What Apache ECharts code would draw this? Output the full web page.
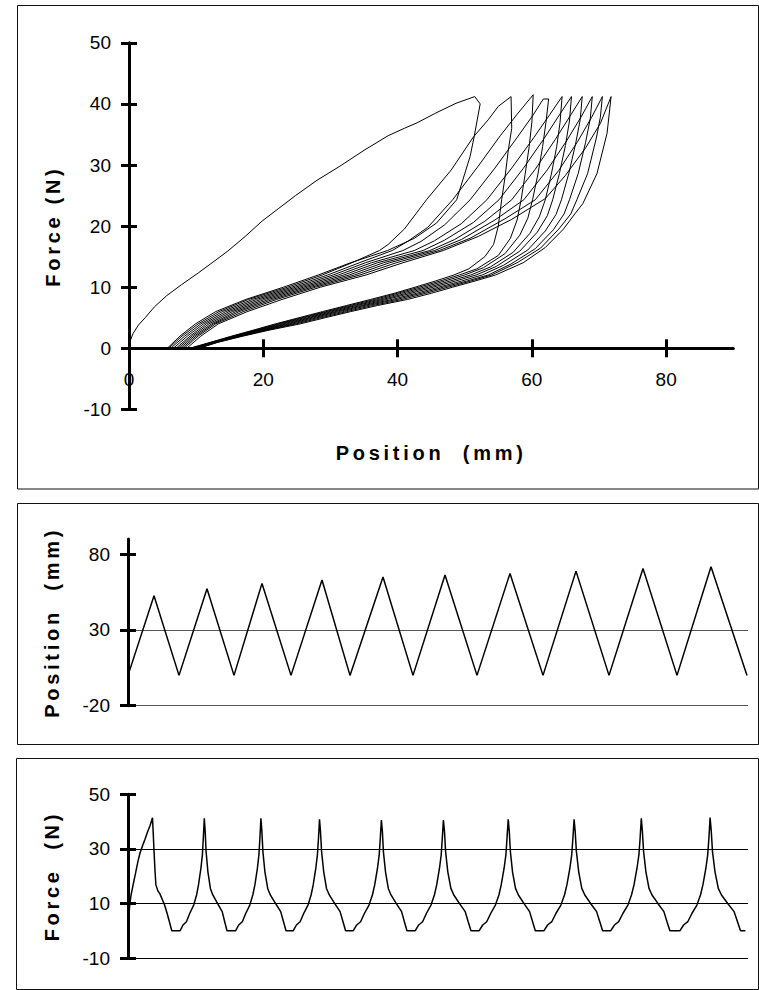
<!DOCTYPE html>
<html>
<head>
<meta charset="utf-8">
<script src="https://cdn.jsdelivr.net/npm/echarts@6/dist/echarts.min.js"></script>
<style>
html,body{margin:0;padding:0;background:#fff;}
#chart{width:759px;height:990px;}
#chart text[style*="bold"]{letter-spacing:3.7px;}
</style>
</head>
<body>
<div id="chart"></div>
<script>
// ---------- Top panel: Force (N) vs Position (mm), 10 hysteresis loops ----------
const xTickValues = [0, 20, 40, 60, 80];
const yTickValuesTop = [-10, 0, 10, 20, 30, 40, 50];

const loop1 = [[0,0],[0.1,1.0],[0.6,2.4],[1.4,3.8],[2.4,5.0],[3.8,6.8],[5.6,8.6],[7.8,10.4],[10.4,12.4],[12.5,14.1],[14.7,15.9],[17.3,18.3],[19.8,20.8],[22.3,22.9],[24.8,25.0],[28,27.5],[31.4,29.8],[35,32.4],[38.6,34.8],[41,36.0],[42.9,36.9],[45.5,38.4],[48.7,40.1],[51.5,41.2],
  [52.3,40],[51.4,34.6],[50.8,31.4],[48.8,24.3],[45.8,20.5],[42.5,18],[38.5,16],[33.0,14],[28.2,12],[23.0,10],[17.4,8],[12.9,6],[9.9,4],[7.6,2],[5.7,0]];
const loop2 = [[9.0,0],[12.2,1],[15.3,2],[18.6,3],[21.8,4],[25.3,5],[28.8,6],[32.4,7],[36.0,8],[39.5,9],[42.6,10],[45.6,11],[48.4,12],[50.6,13],[53.0,15],[54.3,17],[55.0,20],[55.5,24.3],[56.0,28],[56.5,32.5],[57.0,36],[56.9,41.2],
  [55,39.6],[53.5,37.4],[51.3,34.6],[48,29.2],[44.3,24.3],[41,19.5],[38.6,17],[37.3,16],[33.2,14],[28.8,12],[23.6,10],[17.8,8],[13.4,6],[10.3,4],[7.9,2],[5.9,0]];
const loop3 = [[9.2,0],[12.3,1],[15.5,2],[18.9,3],[22.2,4],[25.7,5],[29.3,6],[32.9,7],[36.6,8],[40.0,9],[43.2,10],[46.3,11],[49.2,12],[51.8,13],[55.0,15.2],[56.8,18],[57.8,21],[58.4,24.3],[59.0,28.5],[59.6,33],[60.0,37],[60.2,41.5],
  [57.8,38.3],[55.3,34.8],[52,29.8],[48.2,24.3],[44.5,19.8],[41.5,17.5],[39.2,16],[34.3,14],[29.6,12],[24.2,10],[18.4,8],[13.9,6],[10.7,4],[8.3,2],[6.2,0]];
const loop4 = [[9.4,0],[12.5,1],[15.7,2],[19.1,3],[22.6,4],[26.1,5],[29.7,6],[33.4,7],[37.2,8],[40.6,9],[43.9,10],[47.0,11],[50.0,12],[52.8,13.2],[56.0,15.5],[58.2,18.5],[59.4,21.3],[60.1,24.3],[60.9,28.5],[61.6,33],[62.1,37],[62.5,40.8],
  [61.7,40.8],[60.2,38.2],[57.8,34.5],[54.5,29.5],[50.8,24.3],[47,20.2],[43.5,17.5],[40.8,16],[35.2,14],[30.4,12],[24.8,10],[19.0,8],[14.4,6],[11.1,4],[8.7,2],[6.6,0]];
const loop5 = [[9.6,0],[12.6,1],[15.9,2],[19.4,3],[23.0,4],[26.6,5],[30.2,6],[33.9,7],[37.8,8],[41.3,9],[44.6,10],[47.8,11],[50.9,12],[53.8,13.3],[57.2,15.7],[59.7,18.8],[61.1,21.5],[62.0,24.3],[62.9,28.5],[63.7,33],[64.2,37],[64.5,41.2],
  [62.7,38.3],[60.3,34.5],[57,29.5],[53.3,24.3],[49.5,20.4],[45.5,17.6],[42.5,16],[36.1,14],[31.2,12],[25.4,10],[19.6,8],[14.9,6],[11.5,4],[9.1,2],[7.0,0]];
const loop6 = [[9.8,0],[12.8,1],[16.1,2],[19.7,3],[23.5,4],[27.0,5],[30.7,6],[34.5,7],[38.4,8],[42.0,9],[45.3,10],[48.6,11],[51.7,12],[54.7,13.4],[58.2,15.9],[60.8,19],[62.3,21.7],[63.1,24.3],[64.1,28.6],[65.0,33.2],[65.6,37.2],[65.9,41.2],
  [64.1,38.2],[61.8,34.3],[58.7,29.4],[55.1,24.3],[51.3,20.6],[47,17.7],[43.8,16],[37.0,14],[32.0,12],[26.0,10],[20.2,8],[15.4,6],[11.9,4],[9.4,2],[7.3,0]];
const loop7 = [[10.0,0],[12.9,1],[16.3,2],[20.0,3],[23.9,4],[27.5,5],[31.2,6],[35.0,7],[39.2,8],[42.8,9],[46.1,10],[49.5,11],[52.6,12],[55.8,13.6],[59.4,16.1],[62.0,19.2],[63.6,21.9],[64.4,24.3],[65.5,28.6],[66.5,33.4],[67.2,37.4],[67.5,41.2],
  [65.8,38.2],[63.5,34.2],[60.5,29.3],[57,24.3],[53,20.8],[48.5,17.8],[44.8,16],[37.9,14],[32.8,12],[26.6,10],[20.8,8],[15.9,6],[12.3,4],[9.7,2],[7.6,0]];
const loop8 = [[10.1,0],[13.0,1],[16.5,2],[20.3,3],[24.4,4],[28.0,5],[31.8,6],[35.6,7],[39.9,8],[43.5,9],[46.8,10],[50.3,11],[53.5,12],[56.9,13.8],[60.5,16.3],[63.2,19.4],[64.8,22],[65.6,24.3],[66.9,28.6],[68.0,33.7],[68.7,37.6],[69.0,41.2],
  [67.4,38],[65.2,34],[62.3,29.2],[58.8,24.3],[54.5,21],[49.5,17.8],[45.5,16],[38.8,14],[33.6,12],[27.2,10],[21.4,8],[16.4,6],[12.6,4],[10.0,2],[7.9,0]];
const loop9 = [[10.3,0],[13.2,1],[16.8,2],[20.6,3],[24.9,4],[28.6,5],[32.4,6],[36.3,7],[40.7,8],[44.2,9],[47.5,10],[50.9,11],[54.0,12],[57.8,14],[61.3,16.4],[64.0,19.5],[65.8,22],[66.7,24.3],[68.3,28.6],[69.6,34.4],[70.2,37.8],[70.5,41.2],
  [68.9,37.8],[66.8,33.8],[64,29.1],[60.5,24.3],[56,21.2],[50.8,18],[46.2,16],[39.8,14],[34.4,12],[27.8,10],[22.0,8],[17.0,6],[12.9,4],[10.3,2],[8.2,0]];
const loop10 = [[10.4,0],[13.3,1],[17.0,2],[21.0,3],[25.5,4],[29.2,5],[33.0,6],[37.0,7],[41.5,8],[45.0,9],[48.2,10],[51.5,11],[54.6,12],[58.7,14],[62.0,16.5],[64.7,19.5],[66.4,22],[67.6,23.7],[69.7,28.6],[71.2,35.2],[71.8,41.2],
  [70.2,36.8],[68,32.8],[65,28.3],[62,24.5],[57,21.1],[52,18.3],[46.8,16],[40.8,14],[35.3,12],[28.5,10],[22.8,8],[17.6,6],[13.3,4],[10.7,2],[8.6,0]];
const loops = [loop1, loop2, loop3, loop4, loop5, loop6, loop7, loop8, loop9, loop10];

// ---------- Middle panel: Position (mm) vs time ----------
const positionTicks = [-20, 30, 80];
const positionTimes = [0, 26, 51, 79, 106, 134, 163, 194, 222, 255, 285, 317, 349, 382, 415, 448, 481, 515, 549, 583, 619];
const positionValues = [0, 52.5, 0, 57.2, 0, 60.7, 0, 62.9, 0, 64.9, 0, 66.2, 0, 67.3, 0, 68.8, 0, 70.6, 0, 71.7, 0];

// ---------- Bottom panel: Force (N) vs time ----------
const cycle1Times  = [0, 0.6, 1.7, 3, 5.1, 7.5, 9.9, 12, 14.8, 17, 19.6, 22, 24.5, 25.2, 25.9, 27, 27.9, 30, 31.7, 36.6, 39, 41.4, 43.8];
const cycle1Forces = [0, 4, 9.4, 13, 16.8, 21, 25.3, 28.5, 31.4, 33.5, 36.3, 38.5, 41.4, 36, 30.2, 22, 16.8, 14.5, 13.7, 9.4, 6.5, 3.3, 0];
const riseForceLevels = [0, 2.1, 3.3, 6.4, 9.4, 13.1, 16.8, 22.9, 27.8, 33.9];
const fallForceLevels = [36.3, 29, 21.6, 15.5, 13.1, 10, 7, 3.3, 0];
const peakForces = [41.2, 41.2, 40.8, 40.6, 40.6, 40.8, 40.8, 41.2, 41.5];
const riseTimes = [
  [52.1, 55.0, 58.4, 61.8, 65.7, 68.6, 70.5, 72.9, 74.4, 75.3, 76.3],
  [107.7, 110.7, 114.3, 117.8, 121.8, 124.8, 126.9, 129.4, 130.9, 131.9, 132.9],
  [165.3, 168.4, 172.1, 175.8, 180.0, 183.1, 185.2, 187.8, 189.4, 190.5, 191.5],
  [225.3, 228.7, 232.6, 236.5, 241.0, 244.4, 246.7, 249.5, 251.2, 252.3, 253.4],
  [287.3, 290.7, 294.6, 298.5, 303.0, 306.4, 308.7, 311.5, 313.2, 314.3, 315.4],
  [351.2, 354.7, 358.7, 362.8, 367.4, 370.9, 373.2, 376.1, 377.9, 379.0, 380.2],
  [416.0, 419.6, 423.8, 428.0, 432.9, 436.5, 438.9, 441.9, 443.7, 444.9, 446.1],
  [482.8, 486.5, 490.7, 495.0, 499.9, 503.5, 506.0, 509.0, 510.9, 512.1, 513.3],
  [552.0, 555.6, 559.8, 564.0, 568.9, 572.5, 574.9, 577.9, 579.7, 580.9, 582.1]
];
const fallTimes = [
  [77.2, 78.1, 79.9, 82.4, 84.8, 89.5, 94.2, 96.7, 99.0],
  [133.9, 134.9, 136.9, 139.7, 142.3, 147.5, 152.7, 155.5, 158.0],
  [192.5, 193.6, 195.7, 198.5, 201.3, 206.6, 212.1, 215.0, 217.6],
  [254.4, 255.4, 257.5, 260.3, 263.0, 268.2, 273.6, 276.4, 279.0],
  [316.5, 317.6, 319.8, 322.9, 325.8, 331.4, 337.2, 340.2, 343.0],
  [381.3, 382.4, 384.5, 387.5, 390.4, 395.9, 401.6, 404.6, 407.3],
  [447.2, 448.4, 450.7, 453.8, 456.8, 462.6, 468.6, 471.8, 474.6],
  [514.4, 515.6, 517.9, 521.0, 524.0, 529.9, 535.9, 539.0, 541.9],
  [583.3, 584.5, 587.0, 590.3, 593.5, 599.7, 606.1, 609.5, 612.5]
];
const forceEnd = [617.4, 0];
const forceTicks = [-10, 10, 30, 50];

// ---------- build series data ----------
const positionData = positionTimes.map((t, i) => [t, positionValues[i]]);
const forceData = cycle1Times.map((t, i) => [t, cycle1Forces[i]]);
riseTimes.forEach((times, k) => {
  times.forEach((t, i) => forceData.push([t, i < riseForceLevels.length ? riseForceLevels[i] : peakForces[k]]));
  fallTimes[k].forEach((t, i) => forceData.push([t, fallForceLevels[i]]));
});
forceData.push(forceEnd);

// ---------- styling ----------
const FONT = "'Liberation Sans', Arial, sans-serif";
const labelStyle = {fontFamily: FONT, fontSize: 19, color: '#000'};
const nameStyle = {fontFamily: FONT, fontSize: 20, fontWeight: 'bold', color: '#000'};
const thick = {color: '#000', width: 3};

function yPair(gridIndex, min, max, interval, ticks, name, split) {
  const main = {
    type: 'value', gridIndex, min, max, interval, position: 'left',
    axisLine: {show: true, onZero: false, lineStyle: thick},
    axisTick: {show: true, inside: false, length: 8, lineStyle: thick, customValues: ticks},
    axisLabel: Object.assign({margin: 18, customValues: ticks}, labelStyle),
    splitLine: split ? {show: true, showMaxLine: false, lineStyle: split} : {show: false},
    name, nameLocation: 'middle', nameGap: 66, nameTextStyle: nameStyle
  };
  const inner = {
    type: 'value', gridIndex, min, max, interval, position: 'left', offset: 0,
    axisLine: {show: false, onZero: false},
    axisTick: {show: true, inside: true, length: 8, lineStyle: thick, customValues: ticks},
    axisLabel: {show: false}, splitLine: {show: false}
  };
  return [main, inner];
}

const series = loops.map(d => ({
  type: 'line', xAxisIndex: 0, yAxisIndex: 0, data: d, showSymbol: false, symbol: 'none',
  lineStyle: {color: '#000', width: 1}, silent: true, clip: false
}));
series.push({type: 'line', xAxisIndex: 2, yAxisIndex: 2, data: positionData, showSymbol: false, symbol: 'none',
  lineStyle: {color: '#000', width: 1.5}, silent: true});
series.push({type: 'line', xAxisIndex: 3, yAxisIndex: 4, data: forceData, showSymbol: false, symbol: 'none',
  lineStyle: {color: '#000', width: 1.5}, silent: true});

const option = {
  animation: false,
  backgroundColor: '#fff',
  grid: [
    {left: 129, top: 42.8, width: 604.3, height: 366.6},
    {left: 128, top: 539, width: 620, height: 166.7},
    {left: 128, top: 794.3, width: 620, height: 163.7}
  ],
  xAxis: [
    {type: 'value', gridIndex: 0, min: 0, max: 90, interval: 20, position: 'bottom',
     axisLine: {show: true, onZero: true, onZeroAxisIndex: 0, lineStyle: thick},
     axisTick: {show: true, inside: false, length: 9, lineStyle: thick, customValues: xTickValues},
     axisLabel: Object.assign({margin: -39, customValues: xTickValues}, labelStyle),
     splitLine: {show: false},
     name: 'Position  (mm)', nameLocation: 'middle', nameGap: 34, nameTextStyle: nameStyle},
    {type: 'value', gridIndex: 0, min: 0, max: 90, interval: 20, position: 'bottom',
     axisLine: {show: false, onZero: true, onZeroAxisIndex: 0},
     axisTick: {show: true, inside: true, length: 9, lineStyle: thick, customValues: xTickValues},
     axisLabel: {show: false}, splitLine: {show: false}},
    {type: 'value', gridIndex: 1, min: 0, max: 620, show: false},
    {type: 'value', gridIndex: 2, min: 0, max: 620, show: false}
  ],
  yAxis: [
    ...yPair(0, -10, 50, 10, yTickValuesTop, 'Force (N)', null),
    ...yPair(1, -20, 90, 50, positionTicks, 'Position  (mm)', {color: '#555', width: 1}),
    ...yPair(2, -10, 50, 20, forceTicks, 'Force  (N)', {color: '#000', width: 1})
  ],
  graphic: [
    {type: 'rect', silent: true, z: -10, shape: {x: 17.5, y: 5.5, width: 741, height: 483.5}, style: {fill: 'none', stroke: '#111', lineWidth: 1}},
    {type: 'rect', silent: true, z: -10, shape: {x: 17.5, y: 503.5, width: 741, height: 241}, style: {fill: 'none', stroke: '#111', lineWidth: 1}},
    {type: 'rect', silent: true, z: -10, shape: {x: 16.5, y: 758.5, width: 742, height: 231}, style: {fill: 'none', stroke: '#111', lineWidth: 1}}
  ],
  series
};

const chart = echarts.init(document.getElementById('chart'), null, {renderer: 'svg', width: 759, height: 990});
chart.setOption(option);
</script>
</body>
</html>
